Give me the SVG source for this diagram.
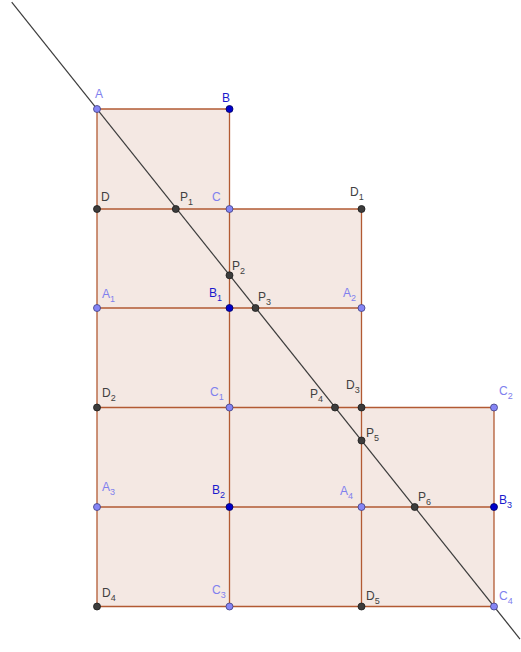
<svg xmlns="http://www.w3.org/2000/svg" width="521" height="652" viewBox="0 0 521 652">
<style>
.fill{fill:#f4e8e3;stroke:none}
.edge{stroke:#b25a33;stroke-width:1.3;fill:none}
.line{stroke:#3c3c3c;stroke-width:1.2;fill:none}
.pf{fill:#8585f5;stroke:#3d3d80;stroke-width:0.8}
.pb{fill:#0000cc;stroke:#000060;stroke-width:0.8}
.pg{fill:#3c3c3c;stroke:#1a1a1a;stroke-width:0.8}
text{font-family:"Liberation Sans",Arial,sans-serif;font-size:12px}
.tf{fill:#8080ee}
.tb{fill:#1a1acc}
.tg{fill:#404040}
.s{font-size:9px}
</style>
<rect width="521" height="652" fill="#ffffff"/>
<path class="fill" d="M97,109 H229.5 V209 H361.5 V407.5 H494 V606.5 H97 Z"/>
<g id="connectors">
<g class="edge">
<line x1="97" y1="109" x2="229.5" y2="109"/>
<line x1="97" y1="209" x2="361.5" y2="209"/>
<line x1="97" y1="308" x2="361.5" y2="308"/>
<line x1="97" y1="407.5" x2="494" y2="407.5"/>
<line x1="97" y1="507" x2="494" y2="507"/>
<line x1="97" y1="606.5" x2="494" y2="606.5"/>
<line x1="97" y1="109" x2="97" y2="606.5"/>
<line x1="229.5" y1="109" x2="229.5" y2="606.5"/>
<line x1="361.5" y1="209" x2="361.5" y2="606.5"/>
<line x1="494" y1="407.5" x2="494" y2="606.5"/>
</g>
<line class="line" x1="11.7" y1="2.1" x2="520" y2="639.1"/>
</g>
<g id="A"><circle class="pf" cx="97" cy="109" r="3.5"/><text class="tf" x="95" y="98">A</text></g>
<g id="B"><circle class="pb" cx="229.5" cy="109" r="3.5"/><text class="tb" x="222" y="102">B</text></g>
<g id="D"><circle class="pg" cx="97" cy="209" r="3.5"/><text class="tg" x="101" y="201">D</text></g>
<g id="P1"><circle class="pg" cx="175.8" cy="209" r="3.5"/><text class="tg" x="180" y="201">P<tspan class="s" dy="4">1</tspan></text></g>
<g id="C"><circle class="pf" cx="229.5" cy="209" r="3.5"/><text class="tf" x="212" y="201">C</text></g>
<g id="D1"><circle class="pg" cx="361.5" cy="209" r="3.5"/><text class="tg" x="350" y="196">D<tspan class="s" dy="4">1</tspan></text></g>
<g id="P2"><circle class="pg" cx="229.5" cy="275.3" r="3.5"/><text class="tg" x="232" y="270">P<tspan class="s" dy="4">2</tspan></text></g>
<g id="A1"><circle class="pf" cx="97" cy="308" r="3.5"/><text class="tf" x="102" y="298">A<tspan class="s" dy="4">1</tspan></text></g>
<g id="B1"><circle class="pb" cx="229.5" cy="308" r="3.5"/><text class="tb" x="209" y="297">B<tspan class="s" dy="4">1</tspan></text></g>
<g id="P3"><circle class="pg" cx="255.5" cy="308" r="3.5"/><text class="tg" x="258" y="301">P<tspan class="s" dy="4">3</tspan></text></g>
<g id="A2"><circle class="pf" cx="361.5" cy="308" r="3.5"/><text class="tf" x="343" y="297">A<tspan class="s" dy="4">2</tspan></text></g>
<g id="D2"><circle class="pg" cx="97" cy="407.5" r="3.5"/><text class="tg" x="102" y="397">D<tspan class="s" dy="4">2</tspan></text></g>
<g id="C1"><circle class="pf" cx="229.5" cy="407.5" r="3.5"/><text class="tf" x="210" y="396">C<tspan class="s" dy="4">1</tspan></text></g>
<g id="P4"><circle class="pg" cx="335" cy="407.5" r="3.5"/><text class="tg" x="310" y="398">P<tspan class="s" dy="4">4</tspan></text></g>
<g id="D3"><circle class="pg" cx="361.5" cy="407.5" r="3.5"/><text class="tg" x="346" y="389">D<tspan class="s" dy="4">3</tspan></text></g>
<g id="C2"><circle class="pf" cx="494" cy="407.5" r="3.5"/><text class="tf" x="499" y="395">C<tspan class="s" dy="4">2</tspan></text></g>
<g id="P5"><circle class="pg" cx="361.5" cy="440.5" r="3.5"/><text class="tg" x="366" y="437">P<tspan class="s" dy="4">5</tspan></text></g>
<g id="A3"><circle class="pf" cx="97" cy="507" r="3.5"/><text class="tf" x="102" y="491">A<tspan class="s" dy="4">3</tspan></text></g>
<g id="B2"><circle class="pb" cx="229.5" cy="507" r="3.5"/><text class="tb" x="212" y="494">B<tspan class="s" dy="4">2</tspan></text></g>
<g id="A4"><circle class="pf" cx="361.5" cy="507" r="3.5"/><text class="tf" x="340" y="495">A<tspan class="s" dy="4">4</tspan></text></g>
<g id="P6"><circle class="pg" cx="414.7" cy="507" r="3.5"/><text class="tg" x="418" y="501">P<tspan class="s" dy="4">6</tspan></text></g>
<g id="B3"><circle class="pb" cx="494" cy="507" r="3.5"/><text class="tb" x="499" y="504">B<tspan class="s" dy="4">3</tspan></text></g>
<g id="D4"><circle class="pg" cx="97" cy="606.5" r="3.5"/><text class="tg" x="102" y="597">D<tspan class="s" dy="4">4</tspan></text></g>
<g id="C3"><circle class="pf" cx="229.5" cy="606.5" r="3.5"/><text class="tf" x="212" y="594">C<tspan class="s" dy="4">3</tspan></text></g>
<g id="D5"><circle class="pg" cx="361.5" cy="606.5" r="3.5"/><text class="tg" x="366" y="600">D<tspan class="s" dy="4">5</tspan></text></g>
<g id="C4"><circle class="pf" cx="494" cy="606.5" r="3.5"/><text class="tf" x="499" y="600">C<tspan class="s" dy="4">4</tspan></text></g>
</svg>
